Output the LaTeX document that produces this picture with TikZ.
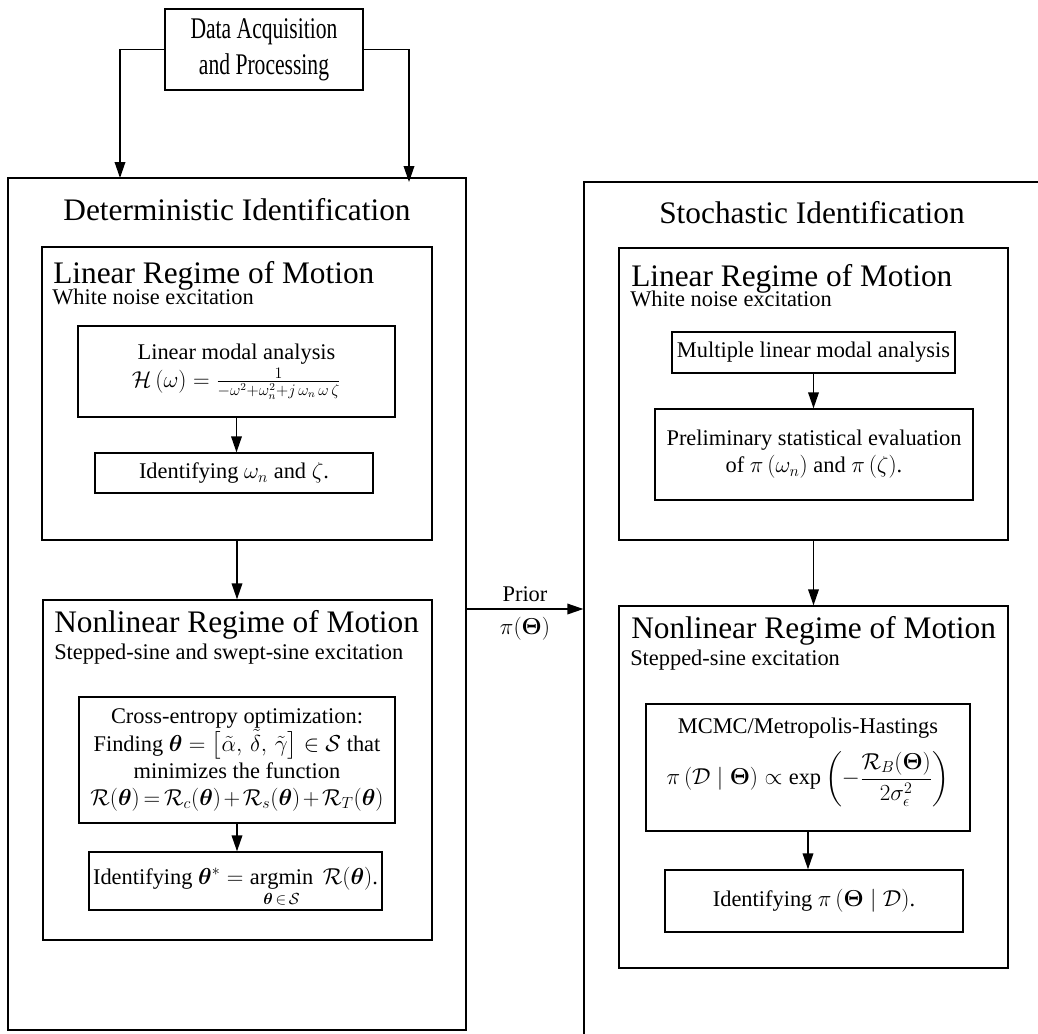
\documentclass[tikz,border=0pt]{standalone}
\usepackage{amsmath}
\usepackage{fontspec}
\setmainfont{Liberation Serif}
\newfontfamily\titlefam[FakeStretch=0.72]{Liberation Serif}
\usetikzlibrary{arrows.meta,fit}
\newcommand\bodysz{\fontsize{16.8}{20.3}\selectfont}
\newcommand\bigsz{\fontsize{23.5}{28}\selectfont}
\newcommand\titlesz{\titlefam\fontsize{22.5}{27}\selectfont}
\tikzset{
  frame/.style={draw, line width=1pt, inner sep=0pt},
  arr/.style={draw, line width=1pt, -{Triangle[length=12pt,width=8pt]}},
  bodytxt/.style={font=\bodysz, align=center, inner sep=0pt},
  bigtxt/.style={font=\bigsz, inner sep=0pt},
}
\begin{document}
\begin{tikzpicture}[x=0.75pt,y=-0.75pt]
\useasboundingbox (0,0) rectangle (1038,1033);
\clip (0,0) rectangle (1038,1033);
% top
\node[frame, fit={(165,9)(363,90)}] (top) {};
\node[font=\titlesz, align=center, inner sep=0pt] (topt) at (top.center) {Data Acquisition\\and Processing};
% left column
\node[frame, fit={(8,178)(466,1030)}] (det) {};
\node[bigtxt, anchor=base] (dett) at (237,220) {Deterministic Identification};
\node[frame, fit={(42,247)(432,540)}] (dlin) {};
\node[bigtxt, anchor=base west] (dlint) at (53,283) {Linear Regime of Motion};
\node[bodytxt, anchor=base west] (dlins) at (52,304) {White noise excitation};
\node[frame, fit={(78,326)(395,417)}] (lma) {};
\node[bodytxt] (lmat) at (lma.center) {Linear modal analysis\\[1pt] $\mathcal{H}\,(\omega) = \frac{1}{-\omega^2+\omega_n^2+j\,\omega_n\,\omega\,\zeta}$};
\node[frame, fit={(95,453)(373,493)}] (idw) {};
\node[bodytxt] (idwt) at (idw.center) {Identifying $\omega_n$ and $\zeta$.};
\node[frame, fit={(43,600)(432,940)}] (dnl) {};
\node[bigtxt, anchor=base west] (dnlt) at (54,632) {Nonlinear Regime of Motion};
\node[bodytxt, anchor=base west] (dnls) at (54,659) {Stepped-sine and swept-sine excitation};
\node[frame, fit={(79,697)(395,823)}] (ce) {};
\node[bodytxt] (cet) at (ce.center) {Cross-entropy optimization:\\ Finding $\boldsymbol{\theta} = \bigl[\tilde{\alpha},\, \tilde{\delta},\, \tilde{\gamma}\bigr] \in \mathcal{S}$ that\\ minimizes the function\\ $\medmuskip=2mu \thickmuskip=3mu \mathcal{R}(\boldsymbol{\theta}) = \mathcal{R}_c(\boldsymbol{\theta}) + \mathcal{R}_s(\boldsymbol{\theta}) + \mathcal{R}_T(\boldsymbol{\theta})$};
\node[frame, fit={(89,852)(382,910)}] (idt) {};
\node[bodytxt] (idtt) at ([yshift=-5pt]idt.center) {Identifying $\boldsymbol{\theta}^{*} = \mathop{\mathrm{argmin}}\limits_{\boldsymbol{\theta}\,\in\,\mathcal{S}}\ \mathcal{R}(\boldsymbol{\theta})$.};
% right column
\node[frame, fit={(584,182)(1060,1060)}] (sto) {};
\node[bigtxt, anchor=base] (stot) at (812,223) {Stochastic Identification};
\node[frame, fit={(619,248)(1008,540)}] (slin) {};
\node[bigtxt, anchor=base west] (slint) at (631,286) {Linear Regime of Motion};
\node[bodytxt, anchor=base west] (slins) at (630,306) {White noise excitation};
\node[frame, fit={(672,332)(955,373)}] (mlma) {};
\node[bodytxt] (mlmat) at (mlma.center) {Multiple linear modal analysis};
\node[frame, fit={(655,409)(973,500)}] (prel) {};
\node[bodytxt] (prelt) at (prel.center) {Preliminary statistical evaluation\\ of $\pi\,(\omega_n)$ and $\pi\,(\zeta)$.};
\node[frame, fit={(619,606)(1008,968)}] (snl) {};
\node[bigtxt, anchor=base west] (snlt) at (631,638) {Nonlinear Regime of Motion};
\node[bodytxt, anchor=base west] (snls) at (630,665) {Stepped-sine excitation};
\node[frame, fit={(646,704)(970,831)}] (mcmc) {};
\node[bodytxt] (mcmct) at ([yshift=4pt]mcmc.center) {MCMC/Metropolis-Hastings\\[9pt] $\pi\,(\mathcal{D} \mid \boldsymbol{\Theta}) \propto \exp\left(-\dfrac{\mathcal{R}_B(\boldsymbol{\Theta})}{2\sigma_{\epsilon}^{2}}\right)$};
\node[frame, fit={(665,870)(963,932)}] (idp) {};
\node[bodytxt] (idpt) at (idp.center) {Identifying $\pi\,(\boldsymbol{\Theta} \mid \mathcal{D})$.};
% prior
\coordinate (pr) at (0,609);
\node[bodytxt, anchor=base] (prior) at (525,601) {Prior};
\node[bodytxt, anchor=base] (priorpi) at (525,634) {$\pi(\boldsymbol{\Theta})$};
% connectors
\coordinate (c1) at (120,178);
\coordinate (c2) at (409,182);
\draw[arr] (top.west) -| (c1);
\draw[arr] (top.east) -| (c2);
\draw[arr] (lma.south) -- (lma.south |- idw.north);
\draw[arr] (dlin.south) -- (dlin.south |- dnl.north);
\draw[arr] (ce.south) -- (ce.south |- idt.north);
\draw[arr] (mlma.south) -- (mlma.south |- prel.north);
\draw[arr] (slin.south) -- (slin.south |- snl.north);
\draw[arr] (mcmc.south) -- (mcmc.south |- idp.north);
\draw[arr] (det.east |- pr) -- (sto.west |- pr);
\end{tikzpicture}
\end{document}
